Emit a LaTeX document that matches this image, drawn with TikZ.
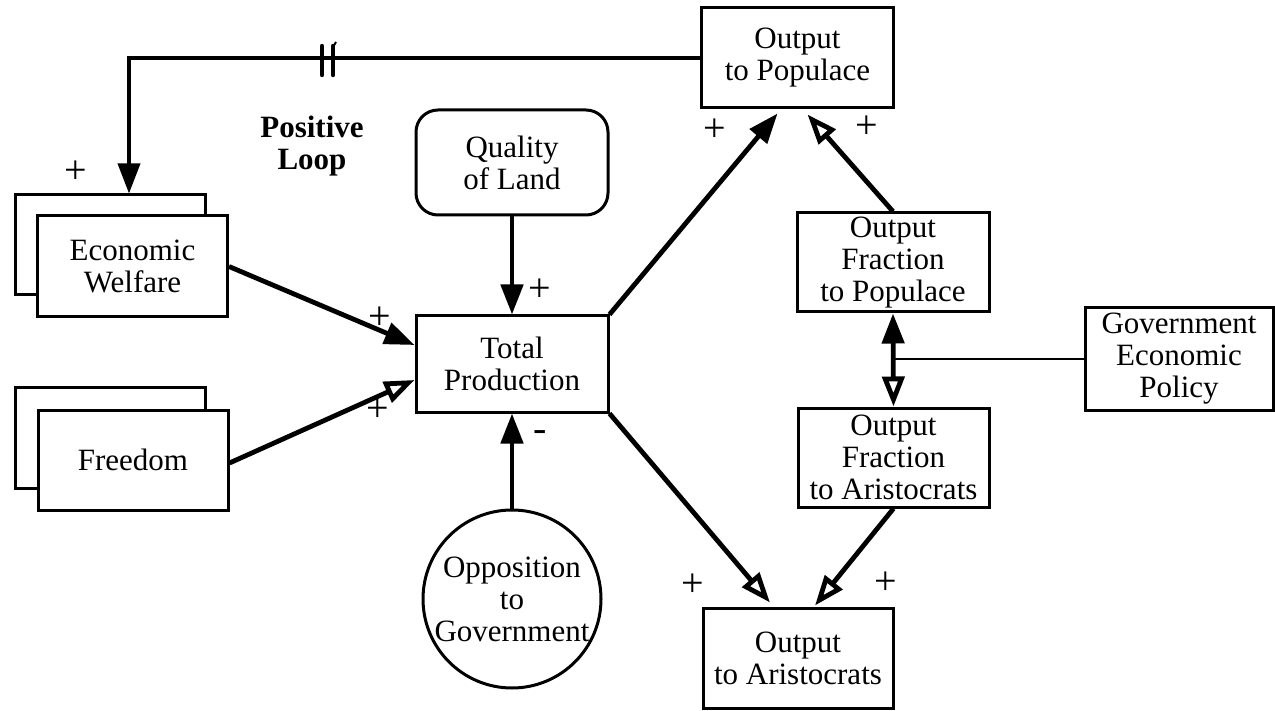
\documentclass[tikz,border=0pt]{standalone}
\usepackage{fontspec}
\setmainfont{Liberation Serif}
\usetikzlibrary{arrows.meta,calc}
\begin{document}
\begin{tikzpicture}[x=0.5pt,y=-0.5pt,
  every node/.style={font=\fontsize{15.5}{16}\selectfont, align=center, inner sep=0pt},
  box/.style={draw, line width=1.5pt, fill=white, minimum width=96pt, minimum height=50pt},
  flow/.style={line width=2.4pt, -{Triangle[length=15pt,width=11pt]}},
  hflow/.style={line width=2.4pt, -{Triangle[open,length=15pt,width=11pt,fill=white]}},
  sign/.style={font=\fontsize{20}{20}\selectfont}]
\useasboundingbox (0,0) rectangle (1275,711);

% stacked (array) variables
\node[box, minimum width=95pt, minimum height=50pt] (ewb) at (110,245) {};
\node[box, minimum width=95pt, minimum height=50.5pt] (ew) at (132.5,266.5) {Economic\\Welfare};
\node[box, minimum width=95pt, minimum height=50pt] (frb) at (110,438) {};
\node[box, minimum width=95pt, minimum height=50pt] (fr) at (133,460) {Freedom};

% main variables
\node[box, minimum height=48pt] (tp) at (512,364) {Total\\Production};
\node[box, rounded corners=11pt, minimum height=52.5pt] (ql) at (512,162.5) {Quality\\of Land};
\node[draw, circle, line width=1.5pt, minimum size=89pt] (og) at (512,599) {Opposition\\to\\Government};
\node[box] (op) at (797.5,58) {Output\\to Populace};
\node[box, minimum width=95pt] (oa) at (798,658) {Output\\to Aristocrats};
\node[box, minimum height=49.5pt] (ofp) at (893,262.5) {Output\\Fraction\\to Populace};
\node[box, minimum width=95.5pt, minimum height=49.5pt] (ofa) at (893.5,457.5) {Output\\Fraction\\to Aristocrats};
\node[box, minimum width=94pt, minimum height=51pt] (gep) at (1179,359) {Government\\Economic\\Policy};

% loop label
\node[font=\fontsize{15.5}{16}\selectfont\bfseries] (loop) at (312,146) {Positive\\Loop};

% delayed feedback from output to welfare
\coordinate (ewin) at ($(ewb.north)+(19,0)$);
\draw[line width=1.8pt, -{Triangle[length=15pt,width=11pt]}] (op.west) -| (ewin);
\draw[line width=2.2pt, line cap=round] (322,46) -- (322,75) (333,46) -- (333,75);
\draw[line width=1pt] (333,47) -- (336,42);

% inflows to total production
\draw[flow] (ew.east) -- ($(tp.west)+(0,-19)$);
\draw[hflow] ($(fr.east)+(0,3)$) -- ($(tp.west)+(0,16)$);
\draw[flow] (ql.south) -- (tp.north);
\draw[flow] (og.north) -- (tp.south);

% distribution of output
\draw[flow] (tp.north east) -- ($(op.south)+(-20,4)$);
\draw[hflow] (ofp.north) -- ($(op.south)+(10,5)$);
\draw[hflow] (tp.south east) -- ($(oa.north)+(-28,-4)$);
\draw[hflow] (ofa.south) -- ($(oa.north)+(17,-1)$);

% policy sets both fractions
\coordinate (jn) at (gep.west -| ofp.south);
\draw[line width=2.4pt, {Triangle[length=15pt,width=11pt]}-{Triangle[open,length=15pt,width=11pt,fill=white]}] (ofp.south) -- (ofa.north);
\draw[line width=1.2pt] (gep.west) -- (jn);

% link polarities
\node[sign] (s1) at (76,172) {+};
\node[sign] (s2) at (380,318) {+};
\node[sign] (s3) at (378,410) {+};
\node[sign] (s4) at (540,290) {+};
\node[sign] (s5) at (540,436) {-};
\node[sign] (s6) at (715,130) {+};
\node[sign] (s7) at (867,127) {+};
\node[sign] (s8) at (693,585) {+};
\node[sign] (s9) at (886,583) {+};
\end{tikzpicture}
\end{document}
